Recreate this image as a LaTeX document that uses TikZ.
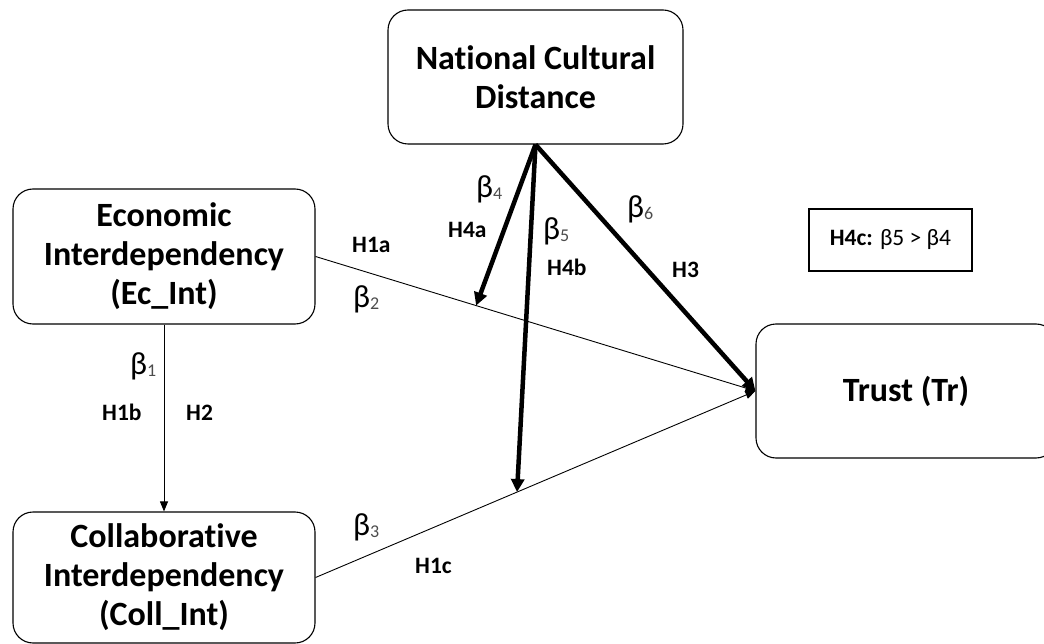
\documentclass[tikz,border=0pt]{standalone}
\usepackage{fontspec}
\setmainfont{Carlito}[Ligatures=NoCommon]
\usetikzlibrary{arrows.meta,calc}
% coefficient with a small grey subscript
\newcommand\coefsub[1]{β\raisebox{-2.5pt}{\fontsize{18}{18}\selectfont\color{black!70}#1}}
\begin{document}
\begin{tikzpicture}[x=1pt,y=-1pt,
  construct/.style={draw,line width=1.1pt,rounded corners=20pt,align=center,
    font=\fontsize{34}{39}\selectfont\bfseries,inner sep=0pt},
  thinarrow/.style={line width=0.9pt,-{Triangle[length=10pt,width=8pt]}},
  thickarrow/.style={line width=4.5pt,-{Triangle[length=13pt,width=13pt]}},
  hyp/.style={font=\fontsize{23.5}{26}\selectfont\bfseries,inner sep=0pt,anchor=base west},
  coef/.style={font=\fontsize{32}{34}\selectfont,inner sep=0pt,anchor=north west}]
\useasboundingbox (0,0) rectangle (1044,644);

% constructs
\node[construct,minimum width=295pt,minimum height=134pt] (ncd) at (535.5,77)
  {National Cultural\\Distance};
\node[construct,minimum width=302pt,minimum height=135pt] (ec) at (164,256.5)
  {Economic\\Interdependency\\(Ec\_Int)};
\node[construct,minimum width=302pt,minimum height=131pt] (coll) at (164,577.5)
  {Collaborative\\Interdependency\\(Coll\_Int)};
\node[construct,minimum width=300pt,minimum height=134pt] (trust) at (906,391)
  {Trust (Tr)};
\node[draw,line width=1.1pt,minimum width=163pt,minimum height=62pt,inner sep=0pt,
  font=\fontsize{23.5}{26}\selectfont] (h4c) at (890.5,240)
  {\textbf{H4c:} β5 > β4};

% direct paths
\draw[thinarrow] (ec.south) -- (coll.north);
\draw[thinarrow] (ec.east) -- (trust.west);
\draw[thinarrow] (coll.east) -- (trust.west);

% moderation paths
\coordinate (m1) at ($(ec.east)!0.365!(trust.west)$);
\coordinate (m2) at ($(coll.east)!0.458!(trust.west)$);
\draw[thickarrow] (ncd.south) -- (m1);
\draw[thickarrow] (ncd.south) -- (m2);
\draw[thickarrow] (ncd.south) -- (trust.west);

% coefficient and hypothesis labels
\node[coef] (b1) at (130,352) {\coefsub{1}};
\node[hyp] (h1b) at (102,420) {H1b};
\node[hyp] (h2) at (186,420) {H2};
\node[hyp] (h1a) at (352,253) {H1a};
\node[coef] (b2) at (353,285) {\coefsub{2}};
\node[coef] (b3) at (353,513) {\coefsub{3}};
\node[hyp] (h1c) at (415,573) {H1c};
\node[coef] (b4) at (476,175) {\coefsub{4}};
\node[hyp] (h4a) at (448,238) {H4a};
\node[coef] (b5) at (543,217) {\coefsub{5}};
\node[hyp] (h4b) at (547,276) {H4b};
\node[coef] (b6) at (627,195) {\coefsub{6}};
\node[hyp] (h3) at (672,278) {H3};
\end{tikzpicture}
\end{document}
